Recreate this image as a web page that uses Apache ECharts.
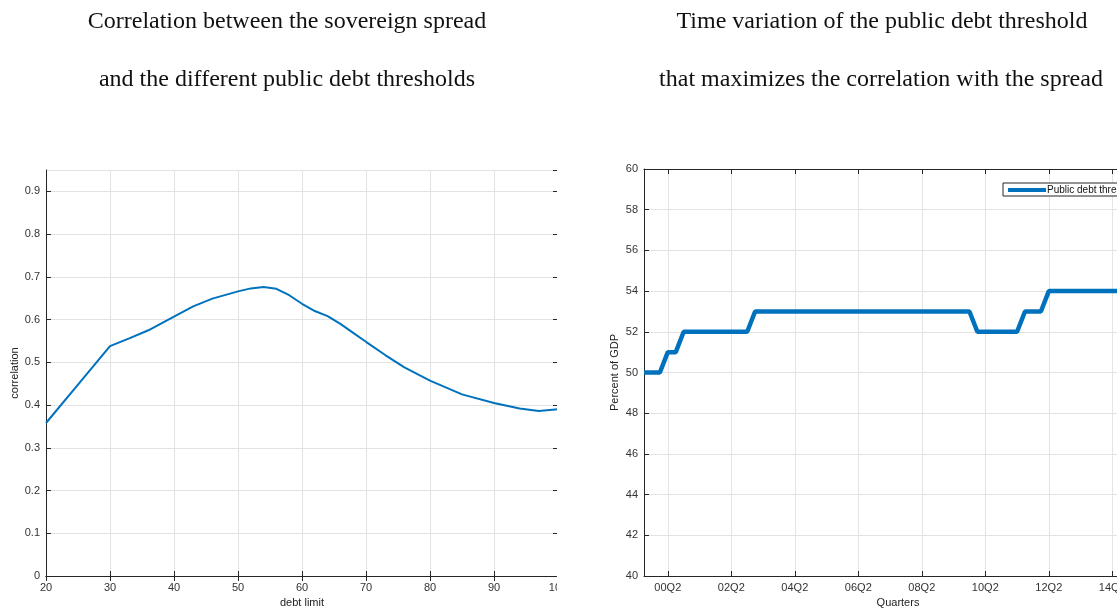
<!DOCTYPE html>
<html><head><meta charset="utf-8">
<script src="https://cdn.jsdelivr.net/npm/echarts@6/dist/echarts.min.js"></script>
<style>html,body{margin:0;padding:0;background:#fff}#c{width:1117px;height:608px}</style>
</head><body><div id="c"></div><script>
// Left panel: correlation vs debt limit
const debtLimit   = [20, 25, 30, 33, 36, 40, 43, 46, 50, 52, 54, 56, 58, 60, 62, 64, 66, 68, 70, 73, 76, 80, 85, 90, 94, 97, 100];
const correlation = [0.358, 0.448, 0.538, 0.556, 0.575, 0.607, 0.631, 0.649, 0.666, 0.673, 0.676, 0.672, 0.657, 0.637, 0.620, 0.608, 0.590, 0.569, 0.548, 0.517, 0.488, 0.457, 0.425, 0.405, 0.392, 0.386, 0.390];

// Right panel: threshold by quarter
const quarters = ['99Q3','99Q4','00Q1','00Q2','00Q3','00Q4','01Q1','01Q2','01Q3','01Q4',
  '02Q1','02Q2','02Q3','02Q4','03Q1','03Q2','03Q3','03Q4','04Q1','04Q2','04Q3','04Q4',
  '05Q1','05Q2','05Q3','05Q4','06Q1','06Q2','06Q3','06Q4','07Q1','07Q2','07Q3','07Q4',
  '08Q1','08Q2','08Q3','08Q4','09Q1','09Q2','09Q3','09Q4','10Q1','10Q2','10Q3','10Q4',
  '11Q1','11Q2','11Q3','11Q4','12Q1','12Q2','12Q3','12Q4','13Q1','13Q2','13Q3','13Q4',
  '14Q1','14Q2','14Q3','14Q4','15Q1','15Q2','15Q3'];
const threshold = [50,50,50,51,51,52,52,52,52,52,
  52,52,52,52,53,53,53,53,53,53,53,53,
  53,53,53,53,53,53,53,53,53,53,53,53,
  53,53,53,53,53,53,53,53,52,52,52,52,
  52,52,53,53,53,54,54,54,54,54,54,54,
  54,54,54,54,54,54,54];
const quarterTickLabels = ['00Q2','02Q2','04Q2','06Q2','08Q2','10Q2','12Q2','14Q2'];

const titleLeft  = ['Correlation between the sovereign spread', 'and the different public debt thresholds'];
const titleRight = ['Time variation of the public debt threshold', 'that maximizes the correlation with the spread'];

const BLUE = '#0072BD';
const AX = '#262626';
const GRID = '#e3e3e3';
const FONT = 'Liberation Sans, Arial, sans-serif';
const TFONT = '24px "Liberation Serif", "Times New Roman", serif';
const lab = {color: '#333', fontSize: 11, fontFamily: FONT};
const isTick = (i, v) => quarterTickLabels.indexOf(v) >= 0;

const chart = echarts.init(document.getElementById('c'));
chart.setOption({
  animation: false,
  backgroundColor: '#fff',
  grid: [
    {left: 46, top: 170, width: 512, height: 406, outerBoundsMode: 'none', containLabel: false},
    {left: 644, top: 169, width: 508, height: 407, outerBoundsMode: 'none', containLabel: false}
  ],
  xAxis: [
    {type: 'value', gridIndex: 0, min: 20, max: 100, interval: 10, position: 'bottom',
     name: 'debt limit', nameLocation: 'middle', nameGap: 20,
     nameTextStyle: {color: '#222', fontSize: 11, fontFamily: FONT},
     axisLine: {lineStyle: {color: AX}}, axisTick: {inside: true, length: 5, lineStyle: {color: AX}},
     axisLabel: Object.assign({margin: 6}, lab),
     splitLine: {show: true, lineStyle: {color: GRID}}},
    {type: 'value', gridIndex: 0, min: 20, max: 100, interval: 10, position: 'top',
     axisLine: {lineStyle: {color: AX}}, axisTick: {inside: true, length: 5, lineStyle: {color: AX}},
     axisLabel: {show: false}, splitLine: {show: false}},
    {type: 'category', gridIndex: 1, data: quarters, boundaryGap: false, position: 'bottom',
     name: 'Quarters', nameLocation: 'middle', nameGap: 20,
     nameTextStyle: {color: '#222', fontSize: 11, fontFamily: FONT},
     axisLine: {lineStyle: {color: AX}}, axisTick: {inside: true, length: 5, interval: isTick, lineStyle: {color: AX}},
     axisLabel: Object.assign({margin: 6, interval: isTick}, lab),
     splitLine: {show: true, interval: isTick, lineStyle: {color: GRID}}},
    {type: 'category', gridIndex: 1, data: quarters, boundaryGap: false, position: 'top',
     axisLine: {lineStyle: {color: AX}}, axisTick: {inside: true, length: 5, interval: isTick, lineStyle: {color: AX}},
     axisLabel: {show: false}, splitLine: {show: false}}
  ],
  yAxis: [
    {type: 'value', gridIndex: 0, min: 0, max: 0.95, interval: 0.1, position: 'left',
     name: 'correlation', nameLocation: 'middle', nameGap: 24,
     nameTextStyle: {color: '#222', fontSize: 11, fontFamily: FONT},
     axisLine: {show: true, lineStyle: {color: AX}}, axisTick: {show: true, inside: true, length: 5, lineStyle: {color: AX}},
     axisLabel: Object.assign({margin: 6, showMaxLabel: false}, lab),
     splitLine: {show: true, lineStyle: {color: GRID}}},
    {type: 'value', gridIndex: 0, min: 0, max: 0.95, interval: 0.1, position: 'right',
     axisLine: {show: true, lineStyle: {color: AX}}, axisTick: {show: true, inside: true, length: 5, lineStyle: {color: AX}},
     axisLabel: {show: false}, splitLine: {show: false}},
    {type: 'value', gridIndex: 1, min: 40, max: 60, interval: 2, position: 'left',
     name: 'Percent of GDP', nameLocation: 'middle', nameGap: 24,
     nameTextStyle: {color: '#222', fontSize: 11, fontFamily: FONT},
     axisLine: {show: true, lineStyle: {color: AX}}, axisTick: {show: true, inside: true, length: 5, lineStyle: {color: AX}},
     axisLabel: Object.assign({margin: 6}, lab),
     splitLine: {show: true, lineStyle: {color: GRID}}}
  ],
  legend: {
    data: [{name: 'Public debt threshold', icon: 'rect'}],
    left: 1003, top: 183, orient: 'vertical',
    itemWidth: 38, itemHeight: 4, itemGap: 2,
    padding: [1, 4, 0, 5],
    borderColor: AX, borderWidth: 1, borderRadius: 0, backgroundColor: '#fff',
    textStyle: {fontSize: 10, lineHeight: 12, color: '#111', fontFamily: FONT, padding: [0, 0, 0, -4]}
  },
  series: [
    {type: 'line', name: 'correlation', xAxisIndex: 0, yAxisIndex: 0,
     data: debtLimit.map((d, i) => [d, correlation[i]]),
     showSymbol: false, smooth: false, lineStyle: {color: BLUE, width: 2}, itemStyle: {color: BLUE}, z: 5},
    {type: 'line', name: 'Public debt threshold', xAxisIndex: 2, yAxisIndex: 2,
     data: threshold, showSymbol: false, lineStyle: {color: BLUE, width: 4.5}, itemStyle: {color: BLUE}, z: 5}
  ],
  graphic: [
    {type: 'rect', shape: {x: 557, y: 150, width: 50, height: 458}, style: {fill: '#fff'}, z: 100},
    {type: 'text', x: 287, y: 22, z: 100, style: {text: titleLeft[0], font: TFONT, fill: '#111', textAlign: 'center', textVerticalAlign: 'middle'}},
    {type: 'text', x: 287, y: 80, z: 100, style: {text: titleLeft[1], font: TFONT, fill: '#111', textAlign: 'center', textVerticalAlign: 'middle'}},
    {type: 'text', x: 882, y: 22, z: 100, style: {text: titleRight[0], font: TFONT, fill: '#111', textAlign: 'center', textVerticalAlign: 'middle'}},
    {type: 'text', x: 881, y: 80, z: 100, style: {text: titleRight[1], font: TFONT, fill: '#111', textAlign: 'center', textVerticalAlign: 'middle'}}
  ]
});
</script></body></html>
